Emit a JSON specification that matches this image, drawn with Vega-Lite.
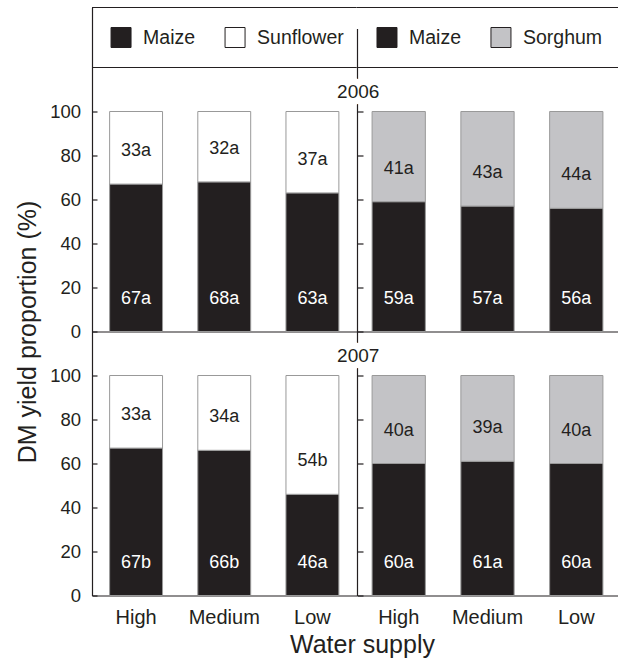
{
  "$schema": "https://vega.github.io/schema/vega-lite/v6.json",
  "padding": {"left": 15, "top": 6.5, "right": 0, "bottom": 2},
  "bounds": "flush",
  "spacing": 0,
  "columns": 2,
  "config": {
    "font": "Liberation Sans",
    "view": {"stroke": null},
    "axis": {"domainColor": "#231f20", "tickColor": "#231f20", "labelColor": "#231f20", "titleColor": "#231f20", "domainWidth": 1.2, "tickWidth": 1.2, "grid": false, "titleFontWeight": "normal"}
  },
  "datasets": {
    "yields": [
      {"year": 2006, "system": "Sunflower", "water": "High", "crop": "Maize", "value": 67, "label": "67a"},
      {"year": 2006, "system": "Sunflower", "water": "High", "crop": "Sunflower", "value": 33, "label": "33a"},
      {"year": 2006, "system": "Sunflower", "water": "Medium", "crop": "Maize", "value": 68, "label": "68a"},
      {"year": 2006, "system": "Sunflower", "water": "Medium", "crop": "Sunflower", "value": 32, "label": "32a"},
      {"year": 2006, "system": "Sunflower", "water": "Low", "crop": "Maize", "value": 63, "label": "63a"},
      {"year": 2006, "system": "Sunflower", "water": "Low", "crop": "Sunflower", "value": 37, "label": "37a"},
      {"year": 2006, "system": "Sorghum", "water": "High", "crop": "Maize", "value": 59, "label": "59a"},
      {"year": 2006, "system": "Sorghum", "water": "High", "crop": "Sorghum", "value": 41, "label": "41a"},
      {"year": 2006, "system": "Sorghum", "water": "Medium", "crop": "Maize", "value": 57, "label": "57a"},
      {"year": 2006, "system": "Sorghum", "water": "Medium", "crop": "Sorghum", "value": 43, "label": "43a"},
      {"year": 2006, "system": "Sorghum", "water": "Low", "crop": "Maize", "value": 56, "label": "56a"},
      {"year": 2006, "system": "Sorghum", "water": "Low", "crop": "Sorghum", "value": 44, "label": "44a"},
      {"year": 2007, "system": "Sunflower", "water": "High", "crop": "Maize", "value": 67, "label": "67b"},
      {"year": 2007, "system": "Sunflower", "water": "High", "crop": "Sunflower", "value": 33, "label": "33a"},
      {"year": 2007, "system": "Sunflower", "water": "Medium", "crop": "Maize", "value": 66, "label": "66b"},
      {"year": 2007, "system": "Sunflower", "water": "Medium", "crop": "Sunflower", "value": 34, "label": "34a"},
      {"year": 2007, "system": "Sunflower", "water": "Low", "crop": "Maize", "value": 46, "label": "46a"},
      {"year": 2007, "system": "Sunflower", "water": "Low", "crop": "Sunflower", "value": 54, "label": "54b"},
      {"year": 2007, "system": "Sorghum", "water": "High", "crop": "Maize", "value": 60, "label": "60a"},
      {"year": 2007, "system": "Sorghum", "water": "High", "crop": "Sorghum", "value": 40, "label": "40a"},
      {"year": 2007, "system": "Sorghum", "water": "Medium", "crop": "Maize", "value": 61, "label": "61a"},
      {"year": 2007, "system": "Sorghum", "water": "Medium", "crop": "Sorghum", "value": 39, "label": "39a"},
      {"year": 2007, "system": "Sorghum", "water": "Low", "crop": "Maize", "value": 60, "label": "60a"},
      {"year": 2007, "system": "Sorghum", "water": "Low", "crop": "Sorghum", "value": 40, "label": "40a"}
    ]
  },
  "concat": [
    {
      "width": 264.5, "height": 60,
      "data": {"values": [{"crop": "Maize"}, {"crop": "Sunflower"}]},
      "layer": [
        {"mark": {"type": "point", "shape": "square", "size": 400, "filled": true, "opacity": 1, "stroke": "#231f20", "strokeWidth": 1},
         "encoding": {
           "x": {"field": "crop", "type": "nominal", "sort": null, "scale": {"type": "point", "padding": 0.66, "align": 0.193}, "axis": null},
           "y": {"datum": 0, "type": "quantitative", "scale": {"domain": [-1, 1]}, "axis": {"title": null, "labels": false, "ticks": false}},
           "fill": {"field": "crop", "type": "nominal", "scale": {"domain": ["Maize", "Sunflower", "Sorghum"], "range": ["#231f20", "#ffffff", "#c3c3c6"]}, "legend": null}}},
        {"mark": {"type": "text", "align": "left", "baseline": "middle", "dx": 22, "fontSize": 19.5, "color": "#231f20"},
         "encoding": {
           "x": {"field": "crop", "type": "nominal", "sort": null, "axis": null},
           "y": {"datum": 0, "type": "quantitative", "axis": {"title": null, "labels": false, "ticks": false}},
           "text": {"field": "crop"}}},
        {"mark": {"type": "rule", "color": "#231f20", "strokeWidth": 1.2},
         "encoding": {"y": {"datum": 1, "type": "quantitative", "axis": {"title": null, "labels": false, "ticks": false}}}},
        {"mark": {"type": "rule", "color": "#231f20", "strokeWidth": 1.2},
         "encoding": {"y": {"datum": -1, "type": "quantitative", "axis": {"title": null, "labels": false, "ticks": false}}}}
      ]
    },
    {
      "width": 261, "height": 60,
      "data": {"values": [{"crop": "Maize"}, {"crop": "Sorghum"}]},
      "layer": [
        {"mark": {"type": "point", "shape": "square", "size": 400, "filled": true, "opacity": 1, "stroke": "#231f20", "strokeWidth": 1},
         "encoding": {
           "x": {"field": "crop", "type": "nominal", "sort": null, "scale": {"type": "point", "padding": 0.645, "align": 0.204}, "axis": null},
           "y": {"datum": 0, "type": "quantitative", "scale": {"domain": [-1, 1]}, "axis": {"title": null, "labels": false, "ticks": false, "domainDash": [39, 30]}},
           "fill": {"field": "crop", "type": "nominal", "scale": {"domain": ["Maize", "Sunflower", "Sorghum"], "range": ["#231f20", "#ffffff", "#c3c3c6"]}, "legend": null}}},
        {"mark": {"type": "text", "align": "left", "baseline": "middle", "dx": 22, "fontSize": 19.5, "color": "#231f20"},
         "encoding": {
           "x": {"field": "crop", "type": "nominal", "sort": null, "axis": null},
           "y": {"datum": 0, "type": "quantitative", "axis": {"title": null, "labels": false, "ticks": false, "domainDash": [39, 30]}},
           "text": {"field": "crop"}}},
        {"mark": {"type": "rule", "color": "#231f20", "strokeWidth": 1.2},
         "encoding": {"y": {"datum": 1, "type": "quantitative", "axis": {"title": null, "labels": false, "ticks": false, "domainDash": [39, 30]}}}},
        {"mark": {"type": "rule", "color": "#231f20", "strokeWidth": 1.2},
         "encoding": {"y": {"datum": -1, "type": "quantitative", "axis": {"title": null, "labels": false, "ticks": false, "domainDash": [39, 30]}}}}
      ]
    },
    {
      "width": 264.5, "height": 264,
      "data": {"name": "yields"},
      "transform": [
        {"filter": "datum.year == 2006 && datum.system == 'Sunflower'"},
        {"window": [{"op": "lag", "field": "value", "as": "below"}], "groupby": ["water"], "sort": [{"field": "crop", "order": "ascending"}]}
      ],
      "encoding": {
        "x": {"field": "water", "type": "nominal", "scale": {"domain": ["High", "Medium", "Low"], "paddingInner": 0.4, "paddingOuter": 0.2}, "axis": {"title": null, "labels": false, "ticks": false}}
      },
      "layer": [
        {"mark": {"type": "bar", "stroke": "#999999", "strokeWidth": 1},
         "encoding": {
           "y": {"field": "value", "type": "quantitative", "stack": "zero", "scale": {"domain": [0, 119]}, "axis": {"values": [0, 20, 40, 60, 80, 100], "tickSize": -5, "labelPadding": 16.5, "labelFontSize": 18.5, "title": null}},
           "fill": {"field": "crop", "type": "nominal", "scale": {"domain": ["Maize", "Sunflower", "Sorghum"], "range": ["#231f20", "#ffffff", "#c3c3c6"]}, "legend": null},
           "order": {"field": "crop", "sort": "ascending"}}},
        {"transform": [{"filter": "datum.crop == 'Maize'"}],
         "mark": {"type": "text", "color": "white", "fontSize": 18, "baseline": "middle"},
         "encoding": {"y": {"datum": 15, "type": "quantitative"}, "text": {"field": "label"}}},
        {"transform": [{"filter": "datum.crop != 'Maize'"}],
         "mark": {"type": "text", "color": "#231f20", "fontSize": 18, "baseline": "middle", "dy": -33},
         "encoding": {"y": {"field": "below", "type": "quantitative"}, "text": {"field": "label"}}}
      ]
    },
    {
      "width": 261, "height": 264,
      "data": {"name": "yields"},
      "transform": [
        {"filter": "datum.year == 2006 && datum.system == 'Sorghum'"},
        {"window": [{"op": "lag", "field": "value", "as": "below"}], "groupby": ["water"], "sort": [{"field": "crop", "order": "ascending"}]}
      ],
      "encoding": {
        "x": {"field": "water", "type": "nominal", "scale": {"domain": ["High", "Medium", "Low"], "paddingInner": 0.4, "paddingOuter": 0.17}, "axis": {"title": null, "labels": false, "ticks": false}}
      },
      "layer": [
        {"mark": {"type": "bar", "stroke": "#999999", "strokeWidth": 1},
         "encoding": {
           "y": {"field": "value", "type": "quantitative", "stack": "zero", "scale": {"domain": [0, 119]}, "axis": {"values": [0, 20, 40, 60, 80, 100], "tickSize": -6, "labels": false, "title": null}},
           "fill": {"field": "crop", "type": "nominal", "scale": {"domain": ["Maize", "Sunflower", "Sorghum"], "range": ["#231f20", "#ffffff", "#c3c3c6"]}, "legend": null},
           "order": {"field": "crop", "sort": "ascending"}}},
        {"transform": [{"filter": "datum.crop == 'Maize'"}],
         "mark": {"type": "text", "color": "white", "fontSize": 18, "baseline": "middle"},
         "encoding": {"y": {"datum": 15, "type": "quantitative"}, "text": {"field": "label"}}},
        {"transform": [{"filter": "datum.crop != 'Maize'"}],
         "mark": {"type": "text", "color": "#231f20", "fontSize": 18, "baseline": "middle", "dy": -33},
         "encoding": {"y": {"field": "below", "type": "quantitative"}, "text": {"field": "label"}}},
        {"transform": [{"filter": "datum.water == 'High' && datum.crop == 'Maize'"}],
         "mark": {"type": "text", "color": "white", "stroke": "white", "strokeWidth": 14, "strokeJoin": "round", "fontSize": 19, "baseline": "middle", "align": "center"},
         "encoding": {"x": {"datum": "High", "type": "nominal", "bandPosition": -0.26}, "y": {"datum": 109, "type": "quantitative"}, "text": {"field": "year"}}},
        {"transform": [{"filter": "datum.water == 'High' && datum.crop == 'Maize'"}],
         "mark": {"type": "text", "color": "#231f20", "fontSize": 19, "baseline": "middle", "align": "center"},
         "encoding": {"x": {"datum": "High", "type": "nominal", "bandPosition": -0.26}, "y": {"datum": 109, "type": "quantitative"}, "text": {"field": "year"}}}
      ]
    },
    {
      "width": 264.5, "height": 264,
      "data": {"name": "yields"},
      "transform": [
        {"filter": "datum.year == 2007 && datum.system == 'Sunflower'"},
        {"window": [{"op": "lag", "field": "value", "as": "below"}], "groupby": ["water"], "sort": [{"field": "crop", "order": "ascending"}]}
      ],
      "encoding": {
        "x": {"field": "water", "type": "nominal", "scale": {"domain": ["High", "Medium", "Low"], "paddingInner": 0.4, "paddingOuter": 0.2}, "axis": {"title": "Water supply", "titleFontSize": 25, "titleX": 270, "titleY": 49, "titleAlign": "center", "titleBaseline": "middle", "labelFontSize": 20, "labelPadding": 12, "labelAngle": 0, "ticks": false}}
      },
      "layer": [
        {"mark": {"type": "bar", "stroke": "#999999", "strokeWidth": 1},
         "encoding": {
           "y": {"field": "value", "type": "quantitative", "stack": "zero", "scale": {"domain": [0, 119]}, "axis": {"values": [0, 20, 40, 60, 80, 100], "tickSize": -5, "labelPadding": 16.5, "labelFontSize": 18.5, "title": "DM yield proportion (%)", "titleFontSize": 25, "titleX": -64.5, "titleY": 0, "titleAngle": -90, "titleAlign": "center", "titleBaseline": "middle"}},
           "fill": {"field": "crop", "type": "nominal", "scale": {"domain": ["Maize", "Sunflower", "Sorghum"], "range": ["#231f20", "#ffffff", "#c3c3c6"]}, "legend": null},
           "order": {"field": "crop", "sort": "ascending"}}},
        {"transform": [{"filter": "datum.crop == 'Maize'"}],
         "mark": {"type": "text", "color": "white", "fontSize": 18, "baseline": "middle"},
         "encoding": {"y": {"datum": 15, "type": "quantitative"}, "text": {"field": "label"}}},
        {"transform": [{"filter": "datum.crop != 'Maize'"}],
         "mark": {"type": "text", "color": "#231f20", "fontSize": 18, "baseline": "middle", "dy": -33},
         "encoding": {"y": {"field": "below", "type": "quantitative"}, "text": {"field": "label"}}}
      ]
    },
    {
      "width": 261, "height": 264,
      "data": {"name": "yields"},
      "transform": [
        {"filter": "datum.year == 2007 && datum.system == 'Sorghum'"},
        {"window": [{"op": "lag", "field": "value", "as": "below"}], "groupby": ["water"], "sort": [{"field": "crop", "order": "ascending"}]}
      ],
      "encoding": {
        "x": {"field": "water", "type": "nominal", "scale": {"domain": ["High", "Medium", "Low"], "paddingInner": 0.4, "paddingOuter": 0.17}, "axis": {"title": null, "labelFontSize": 20, "labelPadding": 12, "labelAngle": 0, "ticks": false}}
      },
      "layer": [
        {"mark": {"type": "bar", "stroke": "#999999", "strokeWidth": 1},
         "encoding": {
           "y": {"field": "value", "type": "quantitative", "stack": "zero", "scale": {"domain": [0, 119]}, "axis": {"values": [0, 20, 40, 60, 80, 100], "tickSize": -6, "labels": false, "title": null}},
           "fill": {"field": "crop", "type": "nominal", "scale": {"domain": ["Maize", "Sunflower", "Sorghum"], "range": ["#231f20", "#ffffff", "#c3c3c6"]}, "legend": null},
           "order": {"field": "crop", "sort": "ascending"}}},
        {"transform": [{"filter": "datum.crop == 'Maize'"}],
         "mark": {"type": "text", "color": "white", "fontSize": 18, "baseline": "middle"},
         "encoding": {"y": {"datum": 15, "type": "quantitative"}, "text": {"field": "label"}}},
        {"transform": [{"filter": "datum.crop != 'Maize'"}],
         "mark": {"type": "text", "color": "#231f20", "fontSize": 18, "baseline": "middle", "dy": -33},
         "encoding": {"y": {"field": "below", "type": "quantitative"}, "text": {"field": "label"}}},
        {"transform": [{"filter": "datum.water == 'High' && datum.crop == 'Maize'"}],
         "mark": {"type": "text", "color": "white", "stroke": "white", "strokeWidth": 14, "strokeJoin": "round", "fontSize": 19, "baseline": "middle", "align": "center"},
         "encoding": {"x": {"datum": "High", "type": "nominal", "bandPosition": -0.26}, "y": {"datum": 109, "type": "quantitative"}, "text": {"field": "year"}}},
        {"transform": [{"filter": "datum.water == 'High' && datum.crop == 'Maize'"}],
         "mark": {"type": "text", "color": "#231f20", "fontSize": 19, "baseline": "middle", "align": "center"},
         "encoding": {"x": {"datum": "High", "type": "nominal", "bandPosition": -0.26}, "y": {"datum": 109, "type": "quantitative"}, "text": {"field": "year"}}}
      ]
    }
  ]
}
